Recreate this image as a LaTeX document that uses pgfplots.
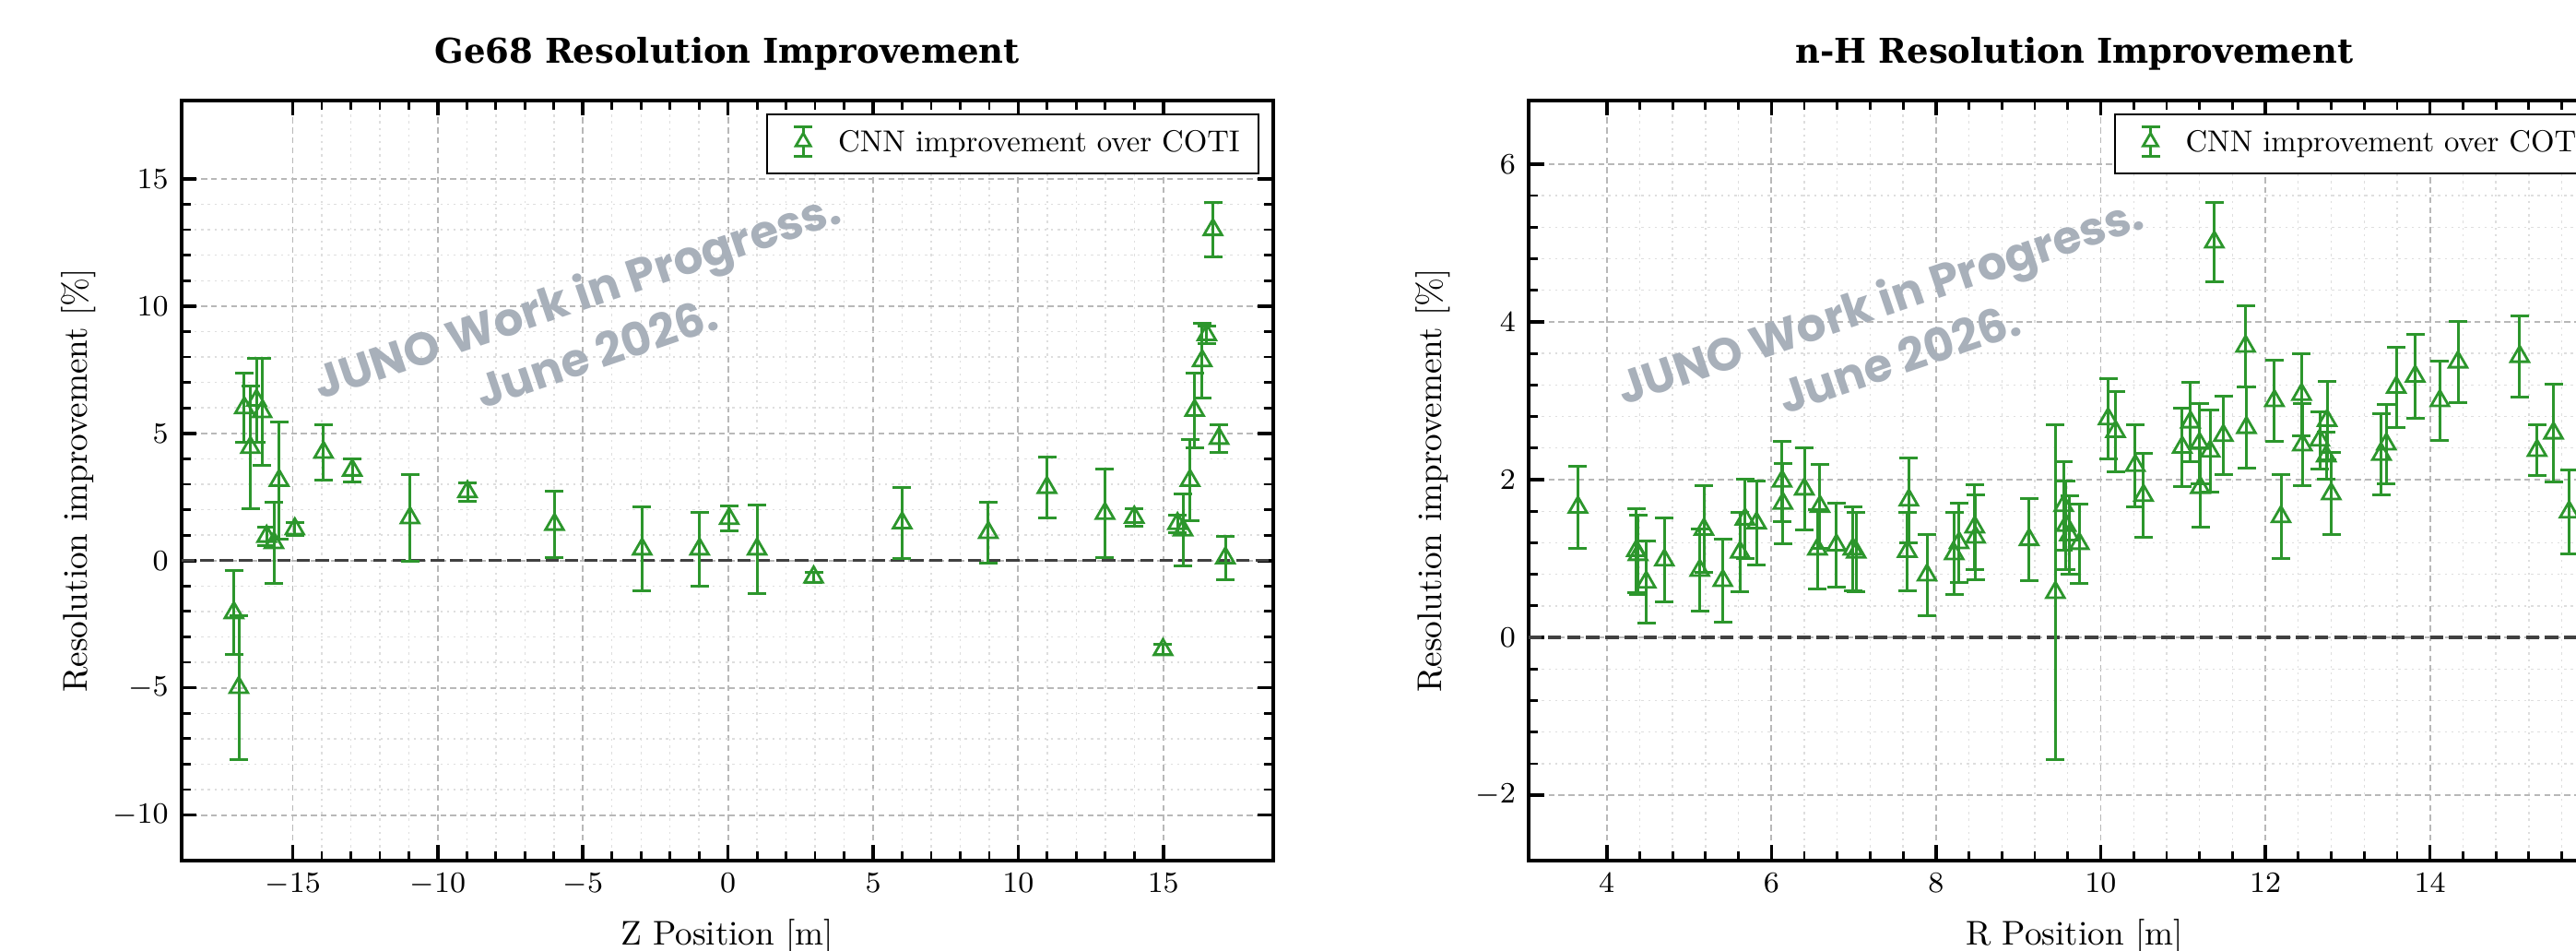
\documentclass[border=0pt]{standalone}
\usepackage{pgfplots}
\pgfplotsset{compat=1.18}
\usepackage{pgfplotstable}
\usepackage{fontspec}
\setmainfont{lmroman10-regular}[Extension=.otf, BoldFont=lmroman10-bold, ItalicFont=lmroman10-italic, BoldItalicFont=lmroman10-bolditalic]
\newfontfamily\titlefont{DejaVu Serif}
\newfontfamily\wmfont{Poppins}
\definecolor{cnngreen}{RGB}{44,150,44}
\definecolor{wmgray}{RGB}{168,176,186}

\pgfplotstableread{
x y e
-17.03 -2.05 1.65
-16.86 -4.99 2.83
-16.67 6.00 1.35
-16.46 4.44 2.40
-16.25 6.30 1.65
-16.06 5.85 2.10
-15.90 0.95 0.35
-15.65 0.70 1.60
-15.47 3.15 2.30
-14.93 1.24 0.25
-13.94 4.25 1.08
-12.95 3.55 0.45
-10.96 1.68 1.70
-8.98 2.70 0.37
-5.98 1.42 1.30
-2.96 0.45 1.65
-0.98 0.45 1.45
0.04 1.65 0.50
1.00 0.45 1.75
2.95 -0.65 0.20
6.00 1.48 1.40
8.97 1.10 1.20
10.99 2.87 1.20
12.99 1.85 1.75
14.00 1.70 0.35
14.99 -3.50 0.20
15.49 1.45 0.35
15.68 1.20 1.40
15.92 3.15 1.60
16.08 5.90 1.47
16.34 7.85 1.47
16.50 8.87 0.35
16.71 13.00 1.07
16.92 4.80 0.55
17.14 0.10 0.85
}\gedata

\pgfplotstableread{
x y e
3.65 1.65 0.52
4.36 1.10 0.53
4.38 1.05 0.50
4.48 0.70 0.52
4.70 0.98 0.53
5.13 0.85 0.52
5.18 1.37 0.55
5.41 0.72 0.53
5.62 1.08 0.50
5.68 1.50 0.50
5.82 1.45 0.53
6.13 1.98 0.51
6.14 1.70 0.51
6.40 1.88 0.52
6.56 1.12 0.50
6.59 1.66 0.53
6.79 1.17 0.53
6.99 1.12 0.53
7.03 1.08 0.50
7.65 1.09 0.50
7.67 1.74 0.54
7.89 0.79 0.51
8.22 1.06 0.52
8.28 1.20 0.50
8.47 1.40 0.54
8.48 1.27 0.54
9.13 1.24 0.52
9.45 0.57 2.12
9.55 1.67 0.56
9.58 1.42 0.56
9.62 1.30 0.50
9.74 1.19 0.50
10.09 2.77 0.51
10.18 2.61 0.51
10.42 2.18 0.52
10.52 1.80 0.53
10.99 2.41 0.50
11.09 2.73 0.50
11.20 2.46 0.51
11.21 1.90 0.50
11.33 2.36 0.52
11.38 5.01 0.50
11.49 2.56 0.50
11.76 3.69 0.51
11.77 2.66 0.51
12.11 3.00 0.51
12.19 1.53 0.53
12.44 3.08 0.52
12.45 2.44 0.52
12.66 2.50 0.36
12.74 2.30 0.30
12.75 2.75 0.50
12.80 1.82 0.52
13.41 2.32 0.51
13.47 2.45 0.50
13.59 3.17 0.51
13.82 3.31 0.53
14.12 3.00 0.50
14.34 3.49 0.51
15.09 3.56 0.51
15.30 2.37 0.32
15.50 2.59 0.62
15.69 1.59 0.53
}\nhdata

\pgfplotsset{
  myaxis/.style={
    scale only axis, width=296pt, height=206.1pt,
    axis line style={line width=1pt},
    tick align=inside,
    major tick length=4.2pt, minor tick length=2.5pt,
    major tick style={line width=0.9pt, black},
    minor tick style={line width=0.7pt, black},
    minor tick num=4,
    grid=both,
    major grid style={dash pattern=on 1.6pt off 1.1pt, black!28, line width=0.45pt},
    minor grid style={dash pattern=on 0.6pt off 1.2pt, black!13, line width=0.35pt},
    tick label style={font=\fontsize{8}{9}\selectfont},
    label style={font=\fontsize{9.3}{11}\selectfont},
    every axis title shift=0pt,
    title style={font=\titlefont\bfseries\fontsize{9.25}{11}\selectfont, at={(axis description cs:0.5,1.0485)}, anchor=base},
    xlabel style={at={(axis description cs:0.5,-0.1104)}, anchor=base},
    legend style={font=\fontsize{8.2}{9.5}\selectfont, draw=black, line width=0.55pt,
      at={(axis description cs:1,1)}, anchor=north east, xshift=-3.7pt, yshift=-3.5pt,
      inner xsep=3pt, inner ysep=2.4pt, legend cell align=left, fill=white},
  },
  mylegimg/.style={legend image code/.code={
    \path[draw=none, fill=none] (0pt,-0.1pt) rectangle (14.2pt,0.1pt);
    \draw[cnngreen, line width=0.7pt] (6.7pt,-3.4pt) -- (6.7pt,4.5pt)
      (4.2pt,-3.4pt) -- (9.2pt,-3.4pt) (4.2pt,4.5pt) -- (9.2pt,4.5pt);
    \draw[cnngreen, line width=0.7pt, fill=white] (6.7pt,2.85pt) -- (4.71pt,-0.6pt) -- (8.69pt,-0.6pt) -- cycle;
  }},
  mydata/.style={only marks, cnngreen, mark=triangle, mark size=2.8pt,
    mark options={solid, fill=white, line width=0.7pt}, mylegimg,
    error bars/.cd, y dir=both, y explicit,
    error bar style={line width=0.75pt, cnngreen},
    error mark options={rotate=90, line width=0.75pt, mark size=2.5pt, cnngreen}},
}

\begin{document}
\begin{tikzpicture}
\begin{axis}[myaxis, at={(49.175pt,24.25pt)}, anchor=south west,
  xmin=-18.84, xmax=18.78, ymin=-11.79, ymax=18.09,
  xtick={-15,-10,...,15}, ytick={-10,-5,...,15},
  title={Ge68 Resolution Improvement},
  xlabel={Z Position [m]},
  ylabel={Resolution improvement [\%]},
  ylabel style={at={(axis description cs:-0.0859,0.5)}, anchor=base},
]
\addplot[forget plot, black!75, line width=0.85pt, dash pattern=on 3.6pt off 1.6pt] coordinates {(-18.84,0) (18.78,0)};
\addplot[mydata] table[x=x, y=y, y error=e] {\gedata};
\addlegendentry{CNN improvement over COTI}
\node[rotate=18.8, text=wmgray, font=\wmfont\bfseries\fontsize{12.5}{16.4}\selectfont, align=center] at (axis cs:-4.9,9.35) {JUNO Work in Progress.\\June 2026.};
\end{axis}

\begin{axis}[myaxis, at={(414.5pt,24.25pt)}, anchor=south west,
  xmin=3.0515, xmax=16.311, ymin=-2.828, ymax=6.809,
  xtick={4,6,...,16}, ytick={-2,0,...,6},
  title={n-H Resolution Improvement},
  xlabel={R Position [m]},
  ylabel={Resolution improvement [\%]},
  ylabel style={at={(axis description cs:-0.080,0.5)}, anchor=base},
]
\addplot[forget plot, black!75, line width=0.85pt, dash pattern=on 3.6pt off 1.6pt] coordinates {(3.0515,0) (16.311,0)};
\addplot[mydata] table[x=x, y=y, y error=e] {\nhdata};
\addlegendentry{CNN improvement over COTI}
\node[rotate=18.8, text=wmgray, font=\wmfont\bfseries\fontsize{12.5}{16.4}\selectfont, align=center] at (axis cs:7.43,3.92) {JUNO Work in Progress.\\June 2026.};
\end{axis}
\pgfresetboundingbox
\path[use as bounding box] (0,0) rectangle (698.5pt,257.5pt);
\end{tikzpicture}
\end{document}
